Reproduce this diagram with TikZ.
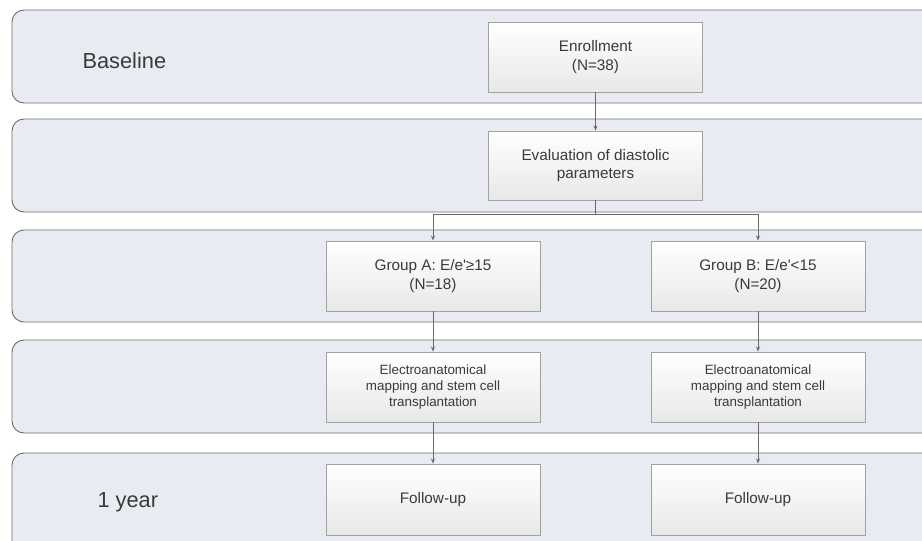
\documentclass[tikz,border=0pt]{standalone}
\usepackage{fontspec}
\setmainfont{Liberation Sans}
\usetikzlibrary{arrows.meta}
\definecolor{bandfill}{HTML}{E8ECF2}
\definecolor{bandline}{HTML}{6E6E6E}
\definecolor{boxline}{HTML}{A2A2A2}
\definecolor{txt}{HTML}{3A3A3A}
\definecolor{arrline}{HTML}{6A6A6A}
\newcommand{\sq}{\XeTeXglyph\XeTeXglyphindex"quotesingle"\relax}
\tikzset{
  band/.style={draw=bandline, line width=0.9pt, fill=bandfill, rounded corners=12pt},
  stagebox/.style={draw=boxline, line width=0.9pt, top color=white, bottom color=black!9,
    minimum width=214pt, minimum height=70pt, align=center, text=txt, inner sep=2pt,
    font=\fontsize{15.3}{18.5}\selectfont},
  smallbox/.style={stagebox, font=\fontsize{13.4}{15.7}\selectfont},
  phase/.style={text=txt, font=\fontsize{21.8}{25}\selectfont, anchor=west},
  conn/.style={draw=arrline, line width=0.6pt},
  arr/.style={conn, -{Stealth[length=5pt,width=4pt]}}
}
\begin{document}
\begin{tikzpicture}[x=1pt,y=-1pt]
\useasboundingbox (0,0) rectangle (922,541);
\clip (0,0) rectangle (922,541);
\fill[white] (0,0) rectangle (922,541);
% bands
\draw[band] (12,10) rectangle (940,103);
\draw[band] (12,119) rectangle (940,212);
\draw[band] (12,230) rectangle (940,322);
\draw[band] (12,340) rectangle (940,433);
\draw[band] (12,453) rectangle (940,560);
% phase labels
\node[phase] (baseline) at (79,61) {Baseline};
\node[phase] (year) at (94,502) {1 year};
% boxes
\node[stagebox] (enr) at (595.5,57) {Enrollment\\(N=38)};
\node[stagebox, minimum height=69pt] (eval) at (595.5,165.5) {Evaluation of diastolic\\parameters};
\node[stagebox] (ga) at (433,276) {Group A: E/e\sq≥15\\(N=18)};
\node[stagebox] (gb) at (758,276) {Group B: E/e\sq<15\\(N=20)};
\node[smallbox] (ea) at (433,387) {Electroanatomical\\mapping and stem cell\\transplantation};
\node[smallbox] (eb) at (758,387) {Electroanatomical\\mapping and stem cell\\transplantation};
\node[stagebox, minimum height=71pt] (fa) at (433,499.5) {Follow-up};
\node[stagebox, minimum height=71pt] (fb) at (758,499.5) {Follow-up};
% connectors
\coordinate (split) at (595.5,214);
\draw[arr] (enr.south) -- (eval.north);
\draw[conn] (eval.south) -- (split);
\draw[arr] (split) -| (ga.north);
\draw[arr] (split) -| (gb.north);
\draw[arr] (ga.south) -- (ea.north);
\draw[arr] (gb.south) -- (eb.north);
\draw[arr] (ea.south) -- (fa.north);
\draw[arr] (eb.south) -- (fb.north);
\end{tikzpicture}
\end{document}
